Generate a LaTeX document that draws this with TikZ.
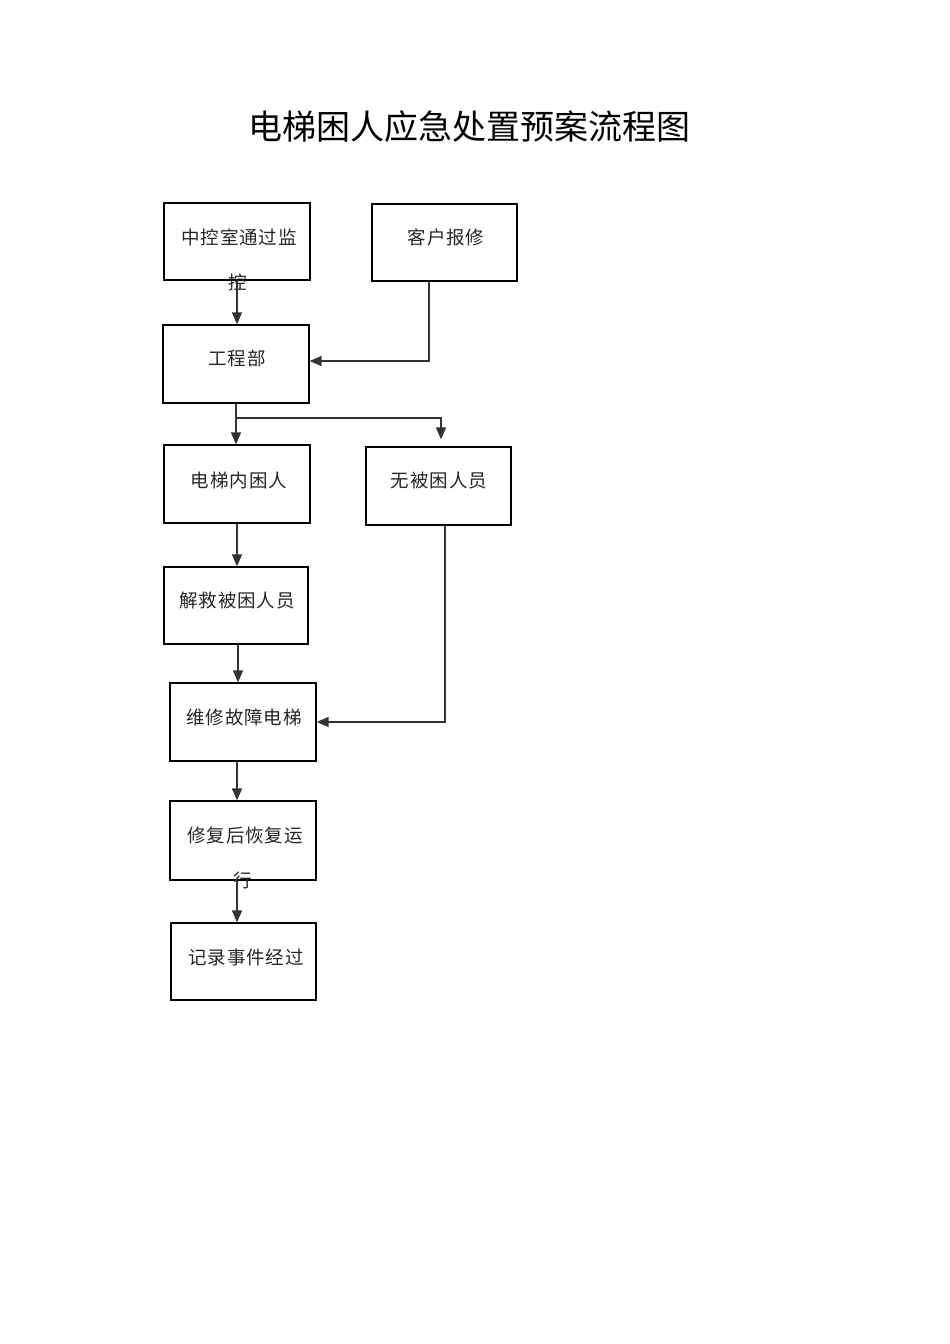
\documentclass[tikz,border=0pt]{standalone}
\usepackage{fontspec}
\newfontfamily\cjk[LetterSpace=5]{Noto Sans CJK SC}
\newfontfamily\cjktitle{Noto Sans CJK SC}
\usetikzlibrary{arrows.meta}
\begin{document}
\begin{tikzpicture}[x=1pt,y=-1pt,
  box/.style={draw=black,line width=1.3pt,minimum width=145pt,minimum height=77pt,inner sep=0pt},
  txt/.style={font=\cjk\fontsize{18.5}{18.5}\selectfont,inner sep=0pt,text=black!85},
  conn/.style={draw=black!80,line width=1.4pt},
  arr/.style={conn,-{Triangle[width=10pt,length=12pt]}}]
\useasboundingbox[fill=white] (0,0) rectangle (950,1344);

\node[font=\cjktitle\fontsize{34}{34}\selectfont,inner sep=0pt] (title) at (469,127) {电梯困人应急处置预案流程图};

\node[box,minimum width=146pt] (b1) at (237,241.5) {};
\node[box] (b2) at (444.5,242.5) {};
\node[box,minimum width=146pt,minimum height=78pt] (b3) at (236,364) {};
\node[box,minimum width=146pt,minimum height=78pt] (b4) at (237,484) {};
\node[box,minimum height=78pt] (b5) at (438.5,486) {};
\node[box,minimum width=144pt] (b6) at (236,605.5) {};
\node[box,minimum width=146pt,minimum height=78pt] (b7) at (243,722) {};
\node[box,minimum width=146pt,minimum height=79pt] (b8) at (243,840.5) {};
\node[box] (b9) at (243.5,961.5) {};

\node[txt] (t1) at (239,237) {中控室通过监};
\node[txt] (t1b) at (238,282) {控};
\node[txt] (t2) at (446,237) {客户报修};
\node[txt] (t3) at (237,358) {工程部};
\node[txt] (t4) at (239,480) {电梯内困人};
\node[txt] (t5) at (439,481) {无被困人员};
\node[txt] (t6) at (237,600) {解救被困人员};
\node[txt] (t7) at (244,717) {维修故障电梯};
\node[txt] (t8) at (245,835) {修复后恢复运};
\node[txt] (t8b) at (243,880) {行};
\node[txt] (t9) at (246,957) {记录事件经过};

\draw[arr] (b1.south) -- (b1.south |- b3.north);
\draw[arr] ([xshift=-15.5pt]b2.south) |- ([yshift=3pt]b3.east);
\draw[arr] (b3.south) -- (b3.south |- b4.north);
\draw[arr] (b3.south |- 0,418) -| ([xshift=2.5pt,yshift=7pt]b5.north);
\draw[arr] (b4.south) -- (b4.south |- b6.north);
\draw[arr] ([xshift=2pt]b6.south) -- ([xshift=2pt]b6.south |- b7.north);
\draw[arr] ([xshift=6.5pt]b5.south) |- (b7.east);
\draw[arr] ([xshift=-6pt]b7.south) -- ([xshift=-6pt]b7.south |- b8.north);
\draw[arr] ([xshift=-6pt]b8.south) -- ([xshift=-6pt]b8.south |- b9.north);
\end{tikzpicture}
\end{document}
